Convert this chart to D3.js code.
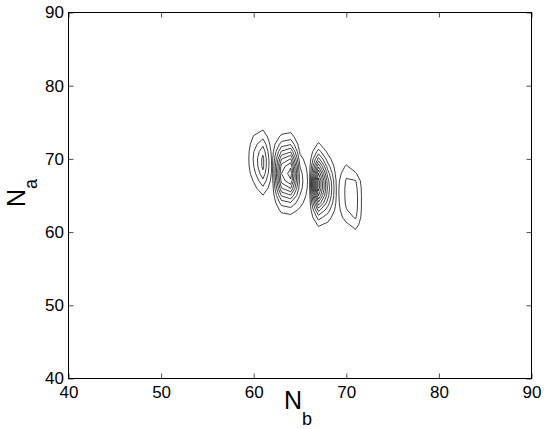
<!DOCTYPE html>
<html>
<head>
<meta charset="utf-8">
<script src="https://cdn.jsdelivr.net/npm/d3@7"></script>
<style>
html,body{margin:0;padding:0;background:#fff;}
svg{display:block;}
text{font-family:"Liberation Sans",Arial,Helvetica,sans-serif;fill:#000;}
</style>
</head>
<body>
<svg id="chart" width="545" height="429"></svg>
<script>
// Grid columns (N_b) and rows (N_a, listed top to bottom)
const nbValues = [58,59,60,61,62,63,64,65,66,67,68,69,70,71,72,73];
const naValues = [77,76,75,74,73,72,71,70,69,68,67,66,65,64,63,62,61,60,59,58,57];
const xTicks = [40,50,60,70,80,90];
const yTicks = [40,50,60,70,80,90];
const levels = [8,16,24,32,40,48,56,64,72,80];
const xLabelMain = "N", xLabelSub = "b";
const yLabelMain = "N", yLabelSub = "a";

// density[row][col]; row = naValues index, col = nbValues index
const density = [
  [0,0,0.4,0.5,0,0,0,0,0,0,0,0,0,0,0,0],
  [0,0,1.2,1.5,0.1,0.6,0.7,0,0,0,0,0,0,0,0,0],
  [0,0,2.6,3.6,0.4,1.7,2.1,0,0,0.4,0,0,0,0,0,0],
  [0,0,5.1,7.7,0.9,4.5,5.3,0.6,0,1.4,0.3,0,0,0,0,0],
  [0,0,8.7,14.0,1.8,10.0,11.9,1.4,0.4,3.8,1.0,0,0,0,0,0],
  [0,0,12.6,21.9,3.1,19.6,23.3,3.3,0.8,9.2,2.7,0,0,0,0,0],
  [0,0,15.8,29.6,4.5,32.9,39.1,6.4,1.5,19.3,6.0,0.4,0,0,0,0],
  [0,0,17,34.3,5.6,47.6,56.5,10.8,2.6,34.7,11.6,0.9,3,0,0,0],
  [0,0,15.8,34.3,6,59.5,70.6,15.6,3.7,54.2,19.5,2.1,9,3,0,0],
  [0,0,12.6,29.6,5.6,64,76,19.5,4.6,72.8,28.3,3.0,14,9,0,0],
  [0,0,8.7,21.9,4.5,59.5,70.6,21,5,84.5,35.3,4.9,17,16.5,0,0],
  [0,0,5.1,14.0,3.1,47.6,56.5,19.5,4.6,84.5,38,5.4,18,19,1,0],
  [0,0,2.6,7.7,1.8,32.9,39.1,15.6,3.7,72.8,35.3,5.4,18,20,1,0],
  [0,0,1.2,3.6,0.9,19.6,23.3,10.8,2.6,54.2,28.3,4.9,17.5,20,1,0],
  [0,0,0.4,1.5,0.4,10.0,11.9,6.4,1.5,34.7,19.5,4.0,15.5,19.5,1,0],
  [0,0,0,0.5,0.1,4.5,5.3,3.3,0.8,19.3,11.6,2.1,12,17,1,0],
  [0,0,0,0,0,1.7,2.1,1.4,0.4,9.2,6.0,1.4,6,11.5,1,0],
  [0,0,0,0,0,0.6,0.7,0.6,0,3.8,2.7,0.9,2,6,0,0],
  [0,0,0,0,0,0,0,0,0,1.4,1.0,0,0,1.5,0,0],
  [0,0,0,0,0,0,0,0,0,0.4,0.3,0,0,0,0,0],
  [0,0,0,0,0,0,0,0,0,0,0,0,0,0,0,0]
];

const plotLeft = 68.5, plotRight = 531.5, plotTop = 12.5, plotBottom = 378.5;
const x = d3.scaleLinear().domain([40,90]).range([plotLeft,plotRight]);
const y = d3.scaleLinear().domain([40,90]).range([plotBottom,plotTop]);
const svg = d3.select("#chart");
svg.append("rect").attr("width",545).attr("height",429).attr("fill","#fff");

// Contours
const nCols = nbValues.length, nRows = naValues.length;
const gen = d3.contours().size([nCols,nRows]).thresholds(levels);
const proj = d3.geoTransform({
  point(px,py){
    this.stream.point(x(nbValues[0] + px - 0.5), y(naValues[0] - (py - 0.5)));
  }
});
const contourPath = d3.geoPath(proj);
svg.append("g")
  .selectAll("path")
  .data(gen(density.flat()))
  .join("path")
  .attr("d", contourPath)
  .attr("fill","none")
  .attr("stroke","#111")
  .attr("stroke-width",0.8)
  .attr("stroke-linejoin","round");

// Axes
function styleAxis(g){
  g.select(".domain").remove();
  g.selectAll(".tick line").attr("stroke","#000").attr("stroke-width",0.7);
  g.selectAll("text").attr("font-size",17).attr("font-family",'"Liberation Sans",Arial,sans-serif').attr("fill","#000");
}
svg.append("g").attr("transform",`translate(0,${plotBottom})`)
  .call(d3.axisBottom(x).tickValues(xTicks).tickSizeInner(-5).tickSizeOuter(0).tickPadding(7.5))
  .call(styleAxis);
svg.append("g").attr("transform",`translate(${plotLeft},0)`)
  .call(d3.axisLeft(y).tickValues(yTicks).tickSizeInner(-5).tickSizeOuter(0).tickPadding(4.5))
  .call(styleAxis);
svg.append("g").attr("transform",`translate(0,${plotTop})`)
  .call(d3.axisTop(x).tickValues(xTicks).tickSizeInner(-5).tickSizeOuter(0).tickFormat(""))
  .call(styleAxis);
svg.append("g").attr("transform",`translate(${plotRight},0)`)
  .call(d3.axisRight(y).tickValues(yTicks).tickSizeInner(-5).tickSizeOuter(0).tickFormat(""))
  .call(styleAxis);

svg.append("rect")
  .attr("x",plotLeft).attr("y",plotTop)
  .attr("width",plotRight-plotLeft).attr("height",plotBottom-plotTop)
  .attr("fill","none").attr("stroke","#000").attr("stroke-width",1);

// Axis labels
const xl = svg.append("text").attr("x",284).attr("y",409).attr("font-size",25);
xl.append("tspan").text(xLabelMain);
xl.append("tspan").attr("font-size",18).attr("dy",16).text(xLabelSub);

const yl = svg.append("text").attr("transform","translate(25,207) rotate(-90)").attr("font-size",25);
yl.append("tspan").text(yLabelMain);
yl.append("tspan").attr("font-size",18).attr("dy",12).text(yLabelSub);
</script>
</body>
</html>
